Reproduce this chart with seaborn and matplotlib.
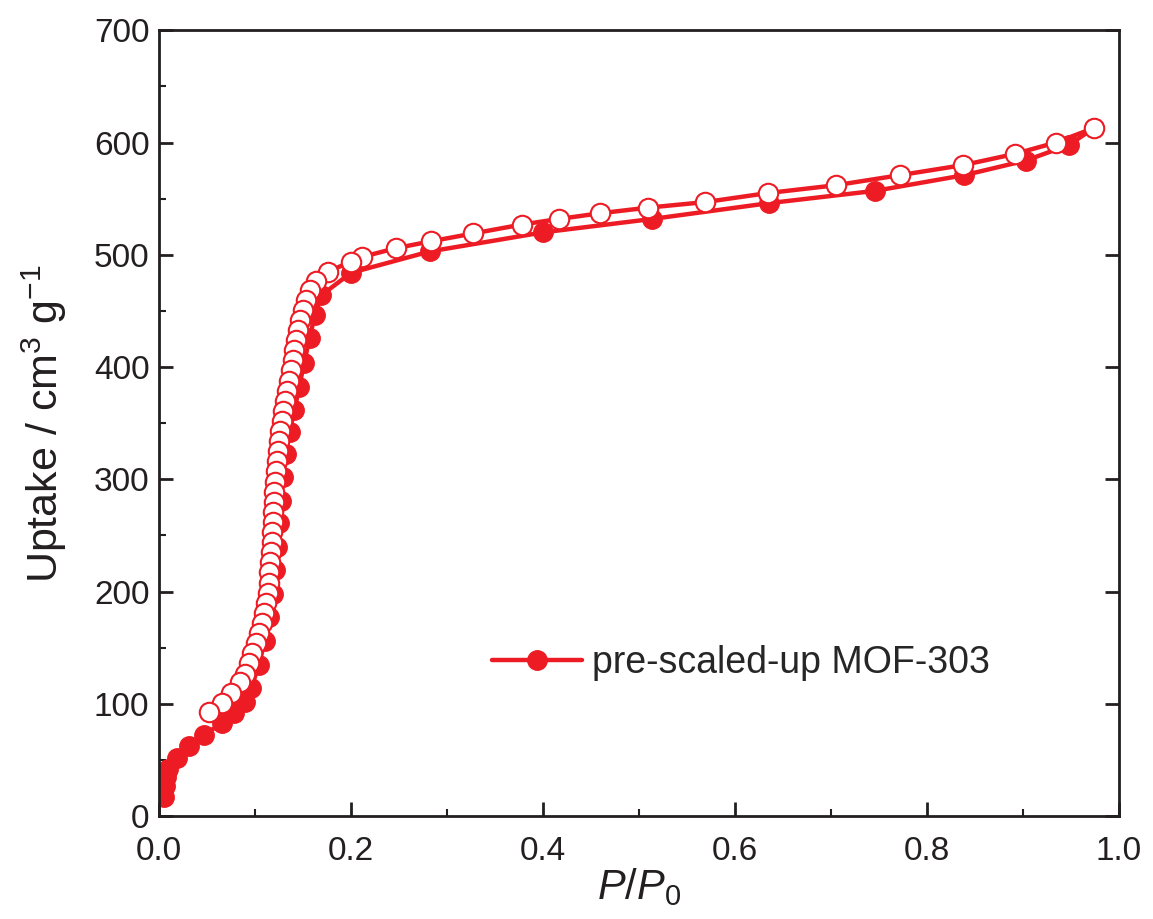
import numpy as np
import pandas as pd
import matplotlib
matplotlib.use("Agg")
import matplotlib.pyplot as plt
import seaborn as sns
from matplotlib.lines import Line2D
from matplotlib.ticker import MultipleLocator

# Adsorption branch (filled)
ads_p = [0.005, 0.006, 0.007, 0.009, 0.019, 0.031, 0.047, 0.065, 0.078, 0.089, 0.096,
         0.104, 0.110, 0.115, 0.119, 0.121, 0.123, 0.125, 0.127, 0.129, 0.132, 0.136,
         0.141, 0.146, 0.151, 0.157, 0.162, 0.169, 0.200, 0.282, 0.400, 0.514, 0.635,
         0.746, 0.839, 0.903, 0.948, 0.974]
ads_u = [17, 27, 35, 42, 52, 62, 72, 83, 92, 102, 114,
         135, 156, 177, 198, 219, 240, 261, 281, 302, 323, 342,
         362, 382, 404, 426, 446, 464, 484, 503, 520, 532, 546,
         557, 571, 584, 598, 613]

# Desorption branch (open)
des_p = [0.974, 0.934, 0.892, 0.838, 0.772, 0.705, 0.634, 0.569, 0.509, 0.459, 0.417,
         0.378, 0.327, 0.283, 0.247, 0.211, 0.200, 0.176, 0.163, 0.157, 0.153, 0.150,
         0.147, 0.145, 0.143, 0.141, 0.139, 0.137, 0.135, 0.133, 0.131, 0.129, 0.128,
         0.126, 0.125, 0.124, 0.123, 0.122, 0.121, 0.120, 0.120, 0.119, 0.119, 0.118,
         0.118, 0.117, 0.116, 0.115, 0.114, 0.113, 0.111, 0.109, 0.107, 0.104, 0.101,
         0.097, 0.094, 0.089, 0.084, 0.075, 0.066, 0.052]
des_u = [613, 600, 590, 580, 571, 562, 555, 547, 542, 537, 532,
         527, 519, 512, 506, 498, 494, 485, 477, 469, 460, 451,
         442, 433, 424, 415, 406, 397, 388, 379, 370, 361, 352,
         343, 334, 325, 316, 307, 298, 289, 280, 271, 262, 253,
         244, 235, 226, 217, 208, 199, 190, 181, 172, 163, 154,
         145, 136, 127, 119, 110, 101, 93]

legend_label = "pre-scaled-up MOF-303"
red = "#ED1C24"
dark = "#231F20"

sns.set_style("ticks")
plt.rcParams['font.family'] = ['Liberation Sans', 'DejaVu Sans']
plt.rcParams['mathtext.fontset'] = 'custom'
plt.rcParams['mathtext.rm'] = 'Liberation Sans'
plt.rcParams['mathtext.it'] = 'Liberation Sans:italic'
plt.rcParams['mathtext.default'] = 'regular'

fig = plt.figure(figsize=(11.53, 9.19), dpi=100)
ax = fig.add_axes([0.138, 0.112, 0.8325, 0.855])

ads = pd.DataFrame({"p": ads_p, "u": ads_u})
des = pd.DataFrame({"p": des_p, "u": des_u})

sns.lineplot(data=ads, x="p", y="u", sort=False, ax=ax, color=red, lw=3.2,
             marker="o", markersize=14, markerfacecolor=red, markeredgecolor=red,
             markeredgewidth=1.0, estimator=None)
sns.lineplot(data=des, x="p", y="u", sort=False, ax=ax, color=red, lw=3.2,
             marker="o", markersize=14, markerfacecolor="white", markeredgecolor=red,
             markeredgewidth=1.5, estimator=None)

ax.set_xlim(0, 1.0)
ax.set_ylim(0, 700)
ax.xaxis.set_major_locator(MultipleLocator(0.2))
ax.xaxis.set_minor_locator(MultipleLocator(0.1))
ax.yaxis.set_major_locator(MultipleLocator(100))
ax.yaxis.set_minor_locator(MultipleLocator(50))
ax.set_xticks([0.0, 0.2, 0.4, 0.6, 0.8, 1.0])
ax.set_xticklabels(["0.0", "0.2", "0.4", "0.6", "0.8", "1.0"])

for s in ax.spines.values():
    s.set_visible(True)
    s.set_linewidth(2.0)
    s.set_color(dark)
ax.tick_params(which="major", direction="in", length=10, width=2.0, labelsize=24,
               colors=dark, top=False, right=True, pad=7)
ax.tick_params(axis="x", which="major", pad=14)
ax.tick_params(which="minor", direction="in", length=5, width=1.5, top=False, right=False,
               colors=dark)

ax.set_xlabel(r"$\mathit{P}/\mathit{P}_0$", fontsize=30, color=dark, labelpad=0)
ax.set_ylabel(r"Uptake / cm$^3$ g$^{-1}$", fontsize=31, color=dark, labelpad=18)

handle = Line2D([], [], color=red, lw=3.2, marker="o", markersize=14,
                markerfacecolor=red, markeredgecolor=red)
ax.legend([handle], [legend_label], loc="center left", bbox_to_anchor=(0.312, 0.195),
          frameon=False, fontsize=27, handlelength=2.4, handletextpad=0.25)

fig.savefig("out.png", dpi=100)
